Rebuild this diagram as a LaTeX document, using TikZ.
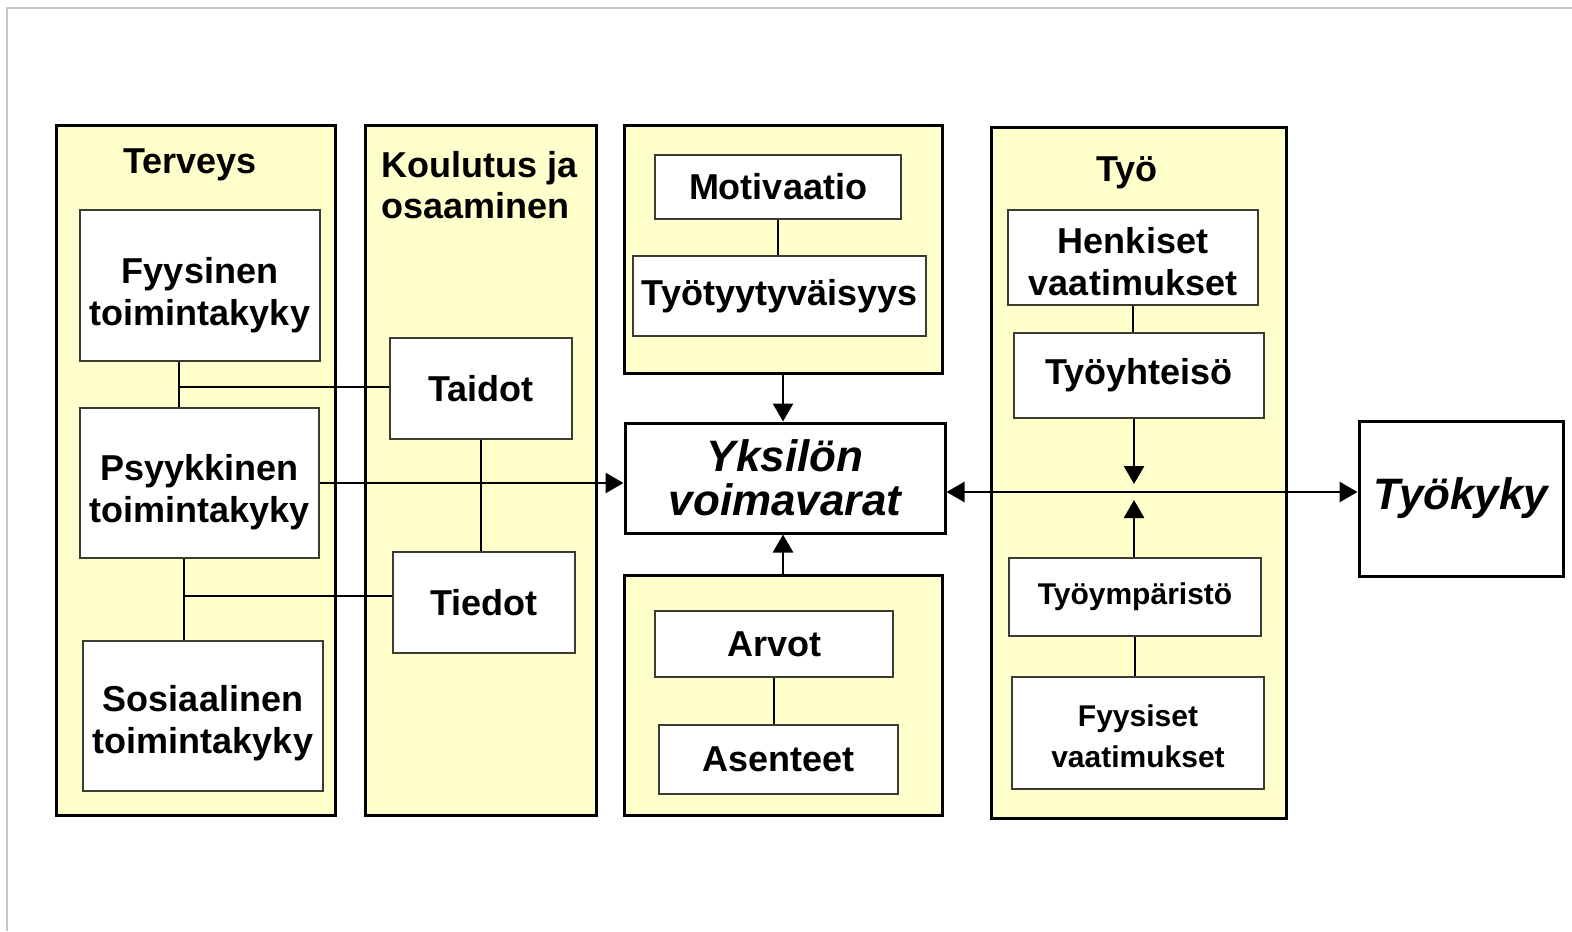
\documentclass[tikz,border=0pt]{standalone}
\usepackage{fontspec}
\setmainfont{Liberation Sans}
\usetikzlibrary{arrows.meta}
\definecolor{paneelivari}{RGB}{255,255,204}
\definecolor{reunavari}{RGB}{60,60,50}
\begin{document}
\begin{tikzpicture}[x=0.5pt,y=-0.5pt,
        paneeli/.style={draw=black,line width=1.5pt,fill=paneelivari,inner sep=0pt},
        laatikko/.style={draw=reunavari,line width=0.8pt,fill=white,align=center,inner sep=0pt,font=\fontsize{18}{21}\selectfont\bfseries},
        pieni/.style={font=\fontsize{15}{20.5}\selectfont\bfseries},
        iso/.style={draw=black,line width=1.5pt,fill=white,align=center,inner sep=0pt,font=\fontsize{22}{22}\selectfont\bfseries\itshape},
        otsikko/.style={font=\fontsize{18}{20.5}\selectfont\bfseries,inner sep=0pt},
        alas/.style={text height=#1},
        viiva/.style={line width=1.4pt},
        nuoli/.style={line width=1.4pt,-{Triangle[length=9pt,width=10pt]}}
    ]
        \useasboundingbox (0,0) rectangle (1572,931);
        \draw[gray!45,line width=0.6pt] (7,931) -- (7,8) -- (1572,8);

        \node[paneeli,minimum width=139.5pt,minimum height=345pt] (terv) at (195.5,470) {};
        \node[paneeli,minimum width=115.5pt,minimum height=345pt] (koul) at (480.5,470) {};
        \node[paneeli,minimum width=159pt,minimum height=124pt] (motp) at (783,249) {};
        \node[paneeli,minimum width=159pt,minimum height=120pt] (arvp) at (783,695) {};
        \node[paneeli,minimum width=147.5pt,minimum height=345.5pt] (tyop) at (1139,472.5) {};

        \node[otsikko] (tervo) at (190,165) {Terveys};
        \node[otsikko,align=left,anchor=west] (koulo) at (381,185) {Koulutus ja\\osaaminen};
        \node[otsikko] (tyoo) at (1127,173) {Työ};

        \node[laatikko,alas=44pt,minimum width=120pt,minimum height=75.5pt] (fyys) at (200,285.5) {Fyysinen\\toimintakyky};
        \node[laatikko,alas=43pt,minimum width=119.5pt,minimum height=75pt] (psyk) at (199.5,483) {Psyykkinen\\toimintakyky};
        \node[laatikko,alas=41pt,minimum width=120pt,minimum height=75pt] (sosi) at (203,716) {Sosiaalinen\\toimintakyky};
        \node[laatikko,minimum width=91pt,minimum height=50.5pt] (taid) at (481,388.5) {Taidot};
        \node[laatikko,minimum width=91pt,minimum height=50.5pt] (tied) at (484,602.5) {Tiedot};
        \node[laatikko,minimum width=123pt,minimum height=32pt] (moti) at (778,187) {Motivaatio};
        \node[laatikko,minimum width=146.5pt,minimum height=40pt] (tyyt) at (779.5,296) {Työtyytyväisyys};
        \node[iso,minimum width=160pt,minimum height=55pt] (yks) at (785,478) {Yksilön\\voimavarat};
        \node[laatikko,minimum width=119pt,minimum height=33pt] (arvo) at (774,644) {Arvot};
        \node[laatikko,minimum width=119.5pt,minimum height=34.5pt] (asen) at (778.5,759.5) {Asenteet};
        \node[laatikko,alas=38pt,minimum width=125pt,minimum height=47.5pt] (henk) at (1133,257.5) {Henkiset\\vaatimukset};
        \node[laatikko,minimum width=125pt,minimum height=42.5pt] (yhte) at (1139,375.5) {Työyhteisö};
        \node[laatikko,pieni,minimum width=126pt,minimum height=39pt] (ympa) at (1135,597) {Työympäristö};
        \node[laatikko,pieni,alas=35pt,minimum width=126pt,minimum height=56pt] (fyva) at (1138,733) {Fyysiset\\vaatimukset};
        \node[iso,minimum width=102pt,minimum height=77.5pt] (kyky) at (1461,498.5) {Työkyky};

        \coordinate (j1) at (179,387);
        \coordinate (j2) at (184,596);
        \coordinate (j3) at (1134,492);
        \draw[viiva] (j1 |- fyys.south) -- (j1 |- psyk.north);
        \draw[viiva] (j1) -- (j1 -| taid.west);
        \draw[viiva] (j2 |- psyk.south) -- (j2 |- sosi.north);
        \draw[viiva] (j2) -- (j2 -| tied.west);
        \draw[viiva] (taid.south) -- (taid.south |- tied.north);
        \draw[nuoli] (psyk.east) -- (psyk.east -| yks.west);
        \draw[viiva] (moti.south) -- (moti.south |- tyyt.north);
        \draw[nuoli] (motp.south) -- (motp.south |- yks.north);
        \draw[nuoli] (arvp.north) -- (arvp.north |- yks.south);
        \draw[viiva] (arvo.south) -- (arvo.south |- asen.north);
        \draw[viiva] (henk.south) -- (henk.south |- yhte.north);
        \draw[viiva] (ympa.south) -- (ympa.south |- fyva.north);
        \draw[nuoli,{Triangle[length=9pt,width=10pt]}-{Triangle[length=9pt,width=10pt]}] (yks.east |- j3) -- (kyky.west |- j3);
        \draw[nuoli] (j3 |- yhte.south) -- ([yshift=4pt]j3);
        \draw[nuoli] (j3 |- ympa.north) -- ([yshift=-4pt]j3);
    \end{tikzpicture}
\end{document}
